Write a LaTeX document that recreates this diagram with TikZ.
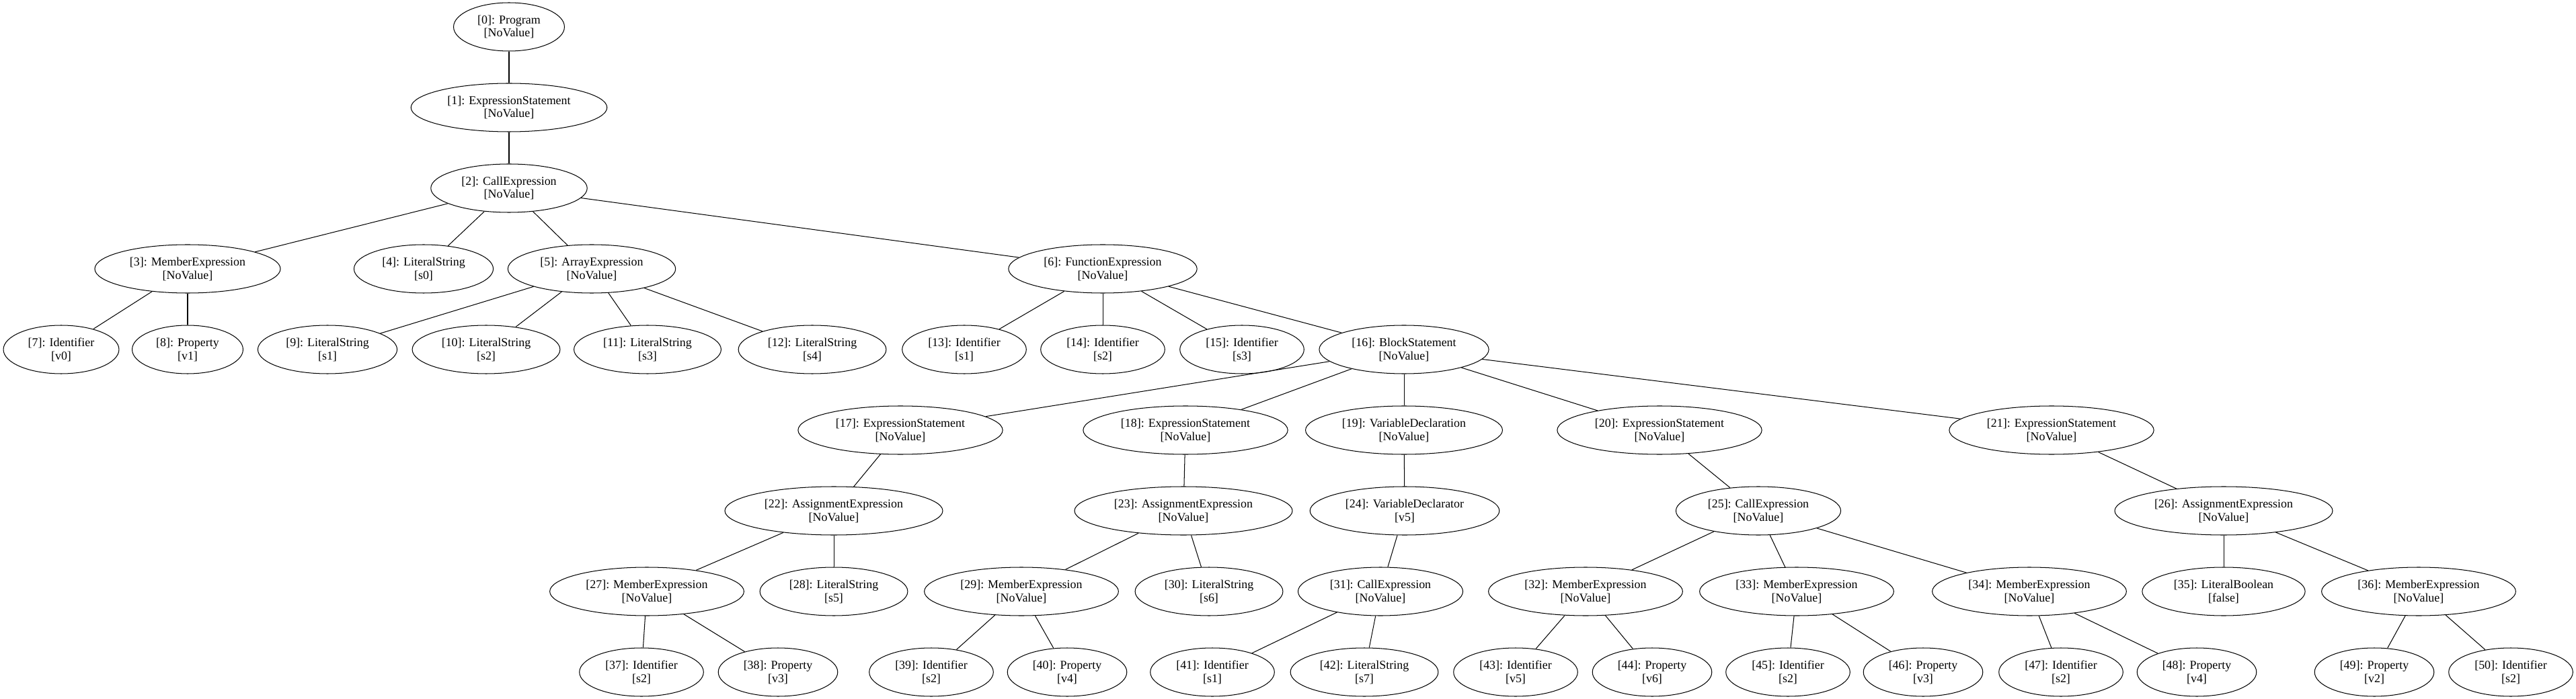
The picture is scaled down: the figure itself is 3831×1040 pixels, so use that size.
\documentclass[tikz,border=0pt]{standalone}
\usepackage{fontspec}
\setmainfont{Liberation Serif}
\usetikzlibrary{shapes.geometric}

\begin{document}
\begin{tikzpicture}[x=0.78125pt,y=-0.78125pt]
\tikzstyle{every node}+=[inner sep=0pt]
\tikzstyle{ast}=[draw=black, ellipse, line width=0.8pt, inner xsep=9pt, inner ysep=0pt, minimum height=56.25pt, align=center, font=\fontsize{14pt}{15.6pt}\selectfont]
\tikzstyle{edge}=[draw=black, line width=0.8pt]
\useasboundingbox (0,0) rectangle (3831,1040);
\node [ast] (n0) at (757,40) {[0]: Program\\{[NoValue]}};
\node [ast] (n1) at (757,160) {[1]: ExpressionStatement\\{[NoValue]}};
\node [ast] (n2) at (757,280) {[2]: CallExpression\\{[NoValue]}};
\node [ast] (n3) at (279,400) {[3]: MemberExpression\\{[NoValue]}};
\node [ast] (n4) at (630,400) {[4]: LiteralString\\{[s0]}};
\node [ast] (n5) at (880,400) {[5]: ArrayExpression\\{[NoValue]}};
\node [ast] (n6) at (1640,400) {[6]: FunctionExpression\\{[NoValue]}};
\node [ast] (n7) at (91,520) {[7]: Identifier\\{[v0]}};
\node [ast] (n8) at (279,520) {[8]: Property\\{[v1]}};
\node [ast] (n9) at (487,520) {[9]: LiteralString\\{[s1]}};
\node [ast] (n10) at (723,520) {[10]: LiteralString\\{[s2]}};
\node [ast] (n11) at (963,520) {[11]: LiteralString\\{[s3]}};
\node [ast] (n12) at (1208,520) {[12]: LiteralString\\{[s4]}};
\node [ast] (n13) at (1434,520) {[13]: Identifier\\{[s1]}};
\node [ast] (n14) at (1640,520) {[14]: Identifier\\{[s2]}};
\node [ast] (n15) at (1847,520) {[15]: Identifier\\{[s3]}};
\node [ast] (n16) at (2088,520) {[16]: BlockStatement\\{[NoValue]}};
\node [ast] (n17) at (1339,640) {[17]: ExpressionStatement\\{[NoValue]}};
\node [ast] (n18) at (1763,640) {[18]: ExpressionStatement\\{[NoValue]}};
\node [ast] (n19) at (2088,640) {[19]: VariableDeclaration\\{[NoValue]}};
\node [ast] (n20) at (2468,640) {[20]: ExpressionStatement\\{[NoValue]}};
\node [ast] (n21) at (3051,640) {[21]: ExpressionStatement\\{[NoValue]}};
\node [ast] (n22) at (1240,760) {[22]: AssignmentExpression\\{[NoValue]}};
\node [ast] (n23) at (1760,760) {[23]: AssignmentExpression\\{[NoValue]}};
\node [ast] (n24) at (2089,760) {[24]: VariableDeclarator\\{[v5]}};
\node [ast] (n25) at (2615,760) {[25]: CallExpression\\{[NoValue]}};
\node [ast] (n26) at (3307,760) {[26]: AssignmentExpression\\{[NoValue]}};
\node [ast] (n27) at (962,880) {[27]: MemberExpression\\{[NoValue]}};
\node [ast] (n28) at (1240,880) {[28]: LiteralString\\{[s5]}};
\node [ast] (n29) at (1519,880) {[29]: MemberExpression\\{[NoValue]}};
\node [ast] (n30) at (1798,880) {[30]: LiteralString\\{[s6]}};
\node [ast] (n31) at (2053,880) {[31]: CallExpression\\{[NoValue]}};
\node [ast] (n32) at (2358,880) {[32]: MemberExpression\\{[NoValue]}};
\node [ast] (n33) at (2672,880) {[33]: MemberExpression\\{[NoValue]}};
\node [ast] (n34) at (3018,880) {[34]: MemberExpression\\{[NoValue]}};
\node [ast] (n35) at (3307,880) {[35]: LiteralBoolean\\{[false]}};
\node [ast] (n36) at (3597,880) {[36]: MemberExpression\\{[NoValue]}};
\node [ast] (n37) at (954,1000) {[37]: Identifier\\{[s2]}};
\node [ast] (n38) at (1157,1000) {[38]: Property\\{[v3]}};
\node [ast] (n39) at (1385,1000) {[39]: Identifier\\{[s2]}};
\node [ast] (n40) at (1587,1000) {[40]: Property\\{[v4]}};
\node [ast] (n41) at (1803,1000) {[41]: Identifier\\{[s1]}};
\node [ast] (n42) at (2029,1000) {[42]: LiteralString\\{[s7]}};
\node [ast] (n43) at (2254,1000) {[43]: Identifier\\{[v5]}};
\node [ast] (n44) at (2457,1000) {[44]: Property\\{[v6]}};
\node [ast] (n45) at (2659,1000) {[45]: Identifier\\{[s2]}};
\node [ast] (n46) at (2860,1000) {[46]: Property\\{[v3]}};
\node [ast] (n47) at (3065,1000) {[47]: Identifier\\{[s2]}};
\node [ast] (n48) at (3267,1000) {[48]: Property\\{[v4]}};
\node [ast] (n49) at (3531,1000) {[49]: Property\\{[v2]}};
\node [ast] (n50) at (3734,1000) {[50]: Identifier\\{[s2]}};
\draw [edge] (n0) -- (n1);
\draw [edge] (n1) -- (n2);
\draw [edge] (n2) -- (n3);
\draw [edge] (n2) -- (n4);
\draw [edge] (n2) -- (n5);
\draw [edge] (n2) -- (n6);
\draw [edge] (n3) -- (n7);
\draw [edge] (n3) -- (n8);
\draw [edge] (n5) -- (n9);
\draw [edge] (n5) -- (n10);
\draw [edge] (n5) -- (n11);
\draw [edge] (n5) -- (n12);
\draw [edge] (n6) -- (n13);
\draw [edge] (n6) -- (n14);
\draw [edge] (n6) -- (n15);
\draw [edge] (n6) -- (n16);
\draw [edge] (n16) -- (n17);
\draw [edge] (n16) -- (n18);
\draw [edge] (n16) -- (n19);
\draw [edge] (n16) -- (n20);
\draw [edge] (n16) -- (n21);
\draw [edge] (n17) -- (n22);
\draw [edge] (n18) -- (n23);
\draw [edge] (n19) -- (n24);
\draw [edge] (n20) -- (n25);
\draw [edge] (n21) -- (n26);
\draw [edge] (n22) -- (n27);
\draw [edge] (n22) -- (n28);
\draw [edge] (n23) -- (n29);
\draw [edge] (n23) -- (n30);
\draw [edge] (n24) -- (n31);
\draw [edge] (n25) -- (n32);
\draw [edge] (n25) -- (n33);
\draw [edge] (n25) -- (n34);
\draw [edge] (n26) -- (n35);
\draw [edge] (n26) -- (n36);
\draw [edge] (n27) -- (n37);
\draw [edge] (n27) -- (n38);
\draw [edge] (n29) -- (n39);
\draw [edge] (n29) -- (n40);
\draw [edge] (n31) -- (n41);
\draw [edge] (n31) -- (n42);
\draw [edge] (n32) -- (n43);
\draw [edge] (n32) -- (n44);
\draw [edge] (n33) -- (n45);
\draw [edge] (n33) -- (n46);
\draw [edge] (n34) -- (n47);
\draw [edge] (n34) -- (n48);
\draw [edge] (n36) -- (n49);
\draw [edge] (n36) -- (n50);
\end{tikzpicture}
\end{document}
